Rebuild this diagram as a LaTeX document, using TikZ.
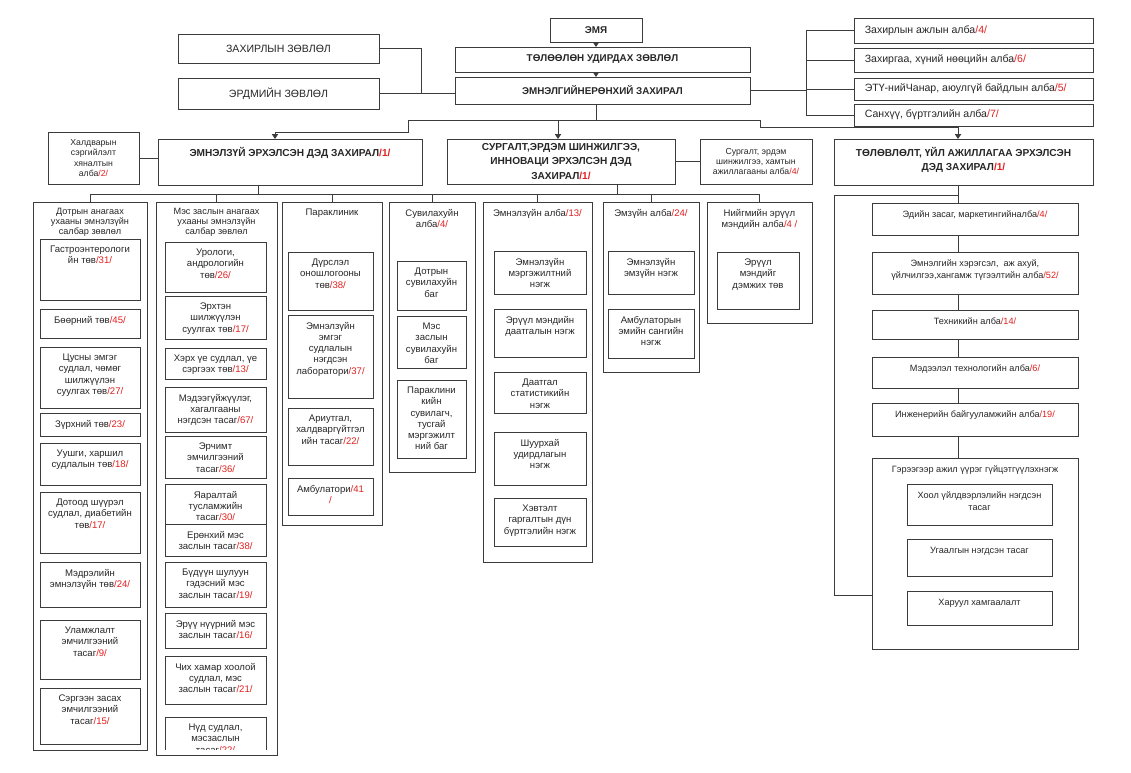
\documentclass[tikz,border=0pt]{standalone}
\usepackage{fontspec}
\setmainfont{Liberation Sans}
\usetikzlibrary{fit}
\usetikzlibrary{arrows.meta}
\definecolor{numred}{RGB}{226,30,30}
\definecolor{linegray}{RGB}{60,60,60}
\newcommand\nm[1]{\textcolor{numred}{/#1/}}
\newcommand\topfont{\fontsize{7}{8}\selectfont\bfseries}
\newcommand\tfont{\fontsize{7.5}{8.6}\selectfont}
\newcommand\hdfont{\fontsize{7.2}{10.3}\selectfont\bfseries}
\newcommand\colfont{\fontsize{6.8}{8}\selectfont}
\newcommand\ttlfont{\fontsize{6.5}{7.1}\selectfont}
\newcommand\sfont{\fontsize{6.2}{7.2}\selectfont}
\newcommand\rfont{\fontsize{6.5}{8.4}\selectfont}
\tikzset{
box/.style={draw=linegray, line width=0.6pt, inner sep=0pt, outer sep=0pt, text=black!85},
sz/.style 2 args={minimum width={#1*0.025cm}, minimum height={#2*0.025cm}},
lbl/.style={anchor=north, yshift=-4.8pt, align=center, inner sep=0pt, font=\colfont, text=black!85},
tbox/.style={box, label={[lbl]90:{#1}}},
ttlbox/.style={box, label={[lbl, font=\ttlfont, yshift=0.5pt]90:{#1}}},
hbox/.style={box, label={[lbl, font=\hdfont, yshift=-0.7pt]90:{#1}}},
rbox/.style={box, label={[lbl, font=\rfont, yshift=-0.7pt]90:{#1}}},
lbox/.style={box, label={[anchor=west, xshift=7.5pt, inner sep=0pt, font=\tfont, text=black!85]180:{#1}}},
cbox/.style={box, align=center, font=#1},
line/.style={draw=linegray, line width=0.6pt},
arr/.style={line, -{Triangle[width=4.5pt,length=3.5pt]}},
}

\begin{document}
\begin{tikzpicture}[x=0.025cm, y=-0.025cm]
\useasboundingbox (0,0) rectangle (1131,773);

%Place the nodes
\node[cbox=\topfont, sz={92}{24}] (emya) at (596,30) {ЭМЯ};
\node[cbox=\topfont, sz={295}{25}] (tolool) at (602.5,59.5) {ТӨЛӨӨЛӨН УДИРДАХ ЗӨВЛӨЛ};
\node[cbox=\topfont, sz={295}{27}] (eronhii) at (602.5,90.5) {ЭМНЭЛГИЙНЕРӨНХИЙ ЗАХИРАЛ};
\node[cbox=\tfont, sz={201}{29}] (zahzov) at (278.5,48.5) {ЗАХИРЛЫН ЗӨВЛӨЛ};
\node[cbox=\tfont, sz={201}{31}] (erdem) at (278.5,93.5) {ЭРДМИЙН ЗӨВЛӨЛ};

\node[lbox={Захирлын ажлын алба\nm{4}}, fit={(854,18) (1093,43)}] (a1) {};
\node[lbox={Захиргаа, хүний нөөцийн алба\nm{6}}, fit={(854,48) (1093,72)}] (a2) {};
\node[lbox={ЭТҮ-нийЧанар, аюулгүй байдлын алба\nm{5}}, fit={(854,78) (1093,100)}] (a3) {};
\node[lbox={Санхүү, бүртгэлийн алба\nm{7}}, fit={(854,104) (1093,126)}] (a4) {};

\node[cbox=\sfont, sz={91}{52}] (haldvar) at (93.5,158) {Халдварын\\сэргийлэлт\\хяналтын\\алба\nm{2}};
\node[hbox={ЭМНЭЛЗҮЙ ЭРХЭЛСЭН ДЭД ЗАХИРАЛ\nm{1}}, fit={(158,139) (422,185)}] (emnelzui) {};
\node[cbox=\hdfont, sz={228}{45}] (surgalt) at (561,161.5) {СУРГАЛТ,ЭРДЭМ ШИНЖИЛГЭЭ,\\ИННОВАЦИ ЭРХЭЛСЭН ДЭД\\ЗАХИРАЛ\nm{1}};
\node[cbox=\sfont, sz={112}{45}] (surhamt) at (756,161.5) {Сургалт, эрдэм\\шинжилгээ, хамтын\\ажиллагааны алба\nm{4}};
\node[hbox={ТӨЛӨВЛӨЛТ, ҮЙЛ АЖИЛЛАГАА ЭРХЭЛСЭН\\ДЭД ЗАХИРАЛ\nm{1}}, fit={(834,139) (1093,185)}] (tolov) {};

%
\node[ttlbox={Дотрын анагаах\\ухааны эмнэлзүйн\\салбар зөвлөл}, fit={(33,202) (147,750)}] (c1) {};
\node[tbox={Гастроэнтерологи\\йн төв\nm{31}}, fit={(40,239) (140,300)}] (c1a) {};
\node[tbox={Бөөрний төв\nm{45}}, fit={(40,309) (140,338)}] (c1b) {};
\node[tbox={Цусны эмгэг\\судлал, чөмөг\\шилжүүлэн\\суулгах төв\nm{27}}, fit={(40,347) (140,408)}] (c1c) {};
\node[tbox={Зүрхний төв\nm{23}}, fit={(40,413) (140,436)}] (c1d) {};
\node[tbox={Уушги, харшил\\судлалын төв\nm{18}}, fit={(40,443) (140,485)}] (c1e) {};
\node[tbox={Дотоод шүүрэл\\судлал, диабетийн\\төв\nm{17}}, fit={(40,492) (140,553)}] (c1f) {};
\node[tbox={Мэдрэлийн\\эмнэлзүйн төв\nm{24}}, fit={(40,562) (140,607)}] (c1g) {};
\node[tbox={Уламжлалт\\эмчилгээний\\тасаг\nm{9}}, fit={(40,620) (140,679)}] (c1h) {};
\node[tbox={Сэргээн засах\\эмчилгээний\\тасаг\nm{15}}, fit={(40,688) (140,744)}] (c1i) {};

\node[ttlbox={Мэс заслын анагаах\\ухааны эмнэлзүйн\\салбар зөвлөл}, fit={(156,202) (277,755)}] (c2) {};
\node[tbox={Урологи,\\андрологийн\\төв\nm{26}}, fit={(165,242) (266,292)}] (c2a) {};
\node[tbox={Эрхтэн\\шилжүүлэн\\суулгах төв\nm{17}}, fit={(165,296) (266,339)}] (c2b) {};
\node[tbox={Хэрх үе судлал, үе\\сэргээх төв\nm{13}}, fit={(165,348) (266,379)}] (c2c) {};
\node[tbox={Мэдээгүйжүүлэг,\\хагалгааны\\нэгдсэн тасаг\nm{67}}, fit={(165,387) (266,432)}] (c2d) {};
\node[tbox={Эрчимт\\эмчилгээний\\тасаг\nm{36}}, fit={(165,436) (266,478)}] (c2e) {};
\node[tbox={Яаралтай\\тусламжийн\\тасаг\nm{30}}, fit={(165,484) (266,524)}] (c2f) {};
\node[tbox={Ерөнхий мэс\\заслын тасаг\nm{38}}, fit={(165,524) (266,556)}] (c2g) {};
\node[tbox={Бүдүүн шулуун\\гэдэсний мэс\\заслын тасаг\nm{19}}, fit={(165,562) (266,607)}] (c2h) {};
\node[tbox={Эрүү нүүрний мэс\\заслын тасаг\nm{16}}, fit={(165,613) (266,648)}] (c2i) {};
\node[tbox={Чих хамар хоолой\\судлал, мэс\\заслын тасаг\nm{21}}, fit={(165,656) (266,704)}] (c2j) {};
\begin{scope}
\clip (150,700) rectangle (285,749);
\node[tbox={Нүд судлал,\\мэсзаслын\\тасаг\nm{22}}, fit={(165,717) (266,790)}] (c2k) {};
\end{scope}

\node[tbox={Параклиник}, fit={(282,202) (382,525)}] (c3) {};
\node[tbox={Дүрслэл\\оношлогооны\\төв\nm{38}}, fit={(288,252) (373,310)}] (c3a) {};
\node[tbox={Эмнэлзүйн\\эмгэг\\судлалын\\нэгдсэн\\лаборатори\nm{37}}, fit={(288,315) (373,398)}] (c3b) {};
\node[tbox={Ариутгал,\\халдваргүйтгэл\\ийн тасаг\nm{22}}, fit={(288,408) (373,465)}] (c3c) {};
\node[tbox={Амбулатори\textcolor{numred}{/41}\\\textcolor{numred}{/}}, fit={(288,478) (373,515)}] (c3d) {};

\node[tbox={Сувилахуйн\\алба\nm{4}}, fit={(389,202) (475,472)}] (c4) {};
\node[tbox={Дотрын\\сувилахуйн\\баг}, fit={(397,261) (466,310)}] (c4a) {};
\node[tbox={Мэс\\заслын\\сувилахуйн\\баг}, fit={(397,316) (466,368)}] (c4b) {};
\node[tbox={Параклини\\кийн\\сувилагч,\\тусгай\\мэргэжилт\\ний баг}, fit={(397,380) (466,458)}] (c4c) {};

\node[tbox={Эмнэлзүйн алба\nm{13}}, fit={(483,202) (592,562)}] (c5) {};
\node[tbox={Эмнэлзүйн\\мэргэжилтний\\нэгж}, fit={(494,251) (586,294)}] (c5a) {};
\node[tbox={Эрүүл мэндийн\\даатгалын нэгж}, fit={(494,309) (586,357)}] (c5b) {};
\node[tbox={Даатгал\\статистикийн\\нэгж}, fit={(494,372) (586,413)}] (c5c) {};
\node[tbox={Шуурхай\\удирдлагын\\нэгж}, fit={(494,432) (586,485)}] (c5d) {};
\node[tbox={Хэвтэлт\\гаргалтын дүн\\бүртгэлийн нэгж}, fit={(494,498) (586,546)}] (c5e) {};

\node[tbox={Эмзүйн алба\nm{24}}, fit={(603,202) (699,372)}] (c6) {};
\node[tbox={Эмнэлзүйн\\эмзүйн нэгж}, fit={(608,251) (694,294)}] (c6a) {};
\node[tbox={Амбулаторын\\эмийн сангийн\\нэгж}, fit={(608,309) (694,358)}] (c6b) {};

\node[tbox={Нийгмийн эрүүл\\мэндийн алба\textcolor{numred}{/4 /}}, fit={(707,202) (812,323)}] (c7) {};
\node[tbox={Эрүүл\\мэндийг\\дэмжих төв}, fit={(717,252) (799,309)}] (c7a) {};

%
\node[rbox={Эдийн засаг, маркетингийналба\nm{4}}, fit={(872,203) (1078,235)}] (r1) {};
\node[rbox={Эмнэлгийн хэрэгсэл,~ аж ахуй,\\үйлчилгээ,хангамж түгээлтийн алба\nm{52}}, fit={(872,252) (1078,294)}] (r2) {};
\node[rbox={Техникийн алба\nm{14}}, fit={(872,310) (1078,339)}] (r3) {};
\node[rbox={Мэдээлэл технологийн алба\nm{6}}, fit={(872,357) (1078,388)}] (r4) {};
\node[rbox={Инженерийн байгууламжийн алба\nm{19}}, fit={(872,403) (1078,436)}] (r5) {};
\node[rbox={Гэрээгээр ажил үүрэг гүйцэтгүүлэхнэгж}, fit={(872,458) (1078,649)}] (r6) {};
\node[rbox={Хоол үйлдвэрлэлийн нэгдсэн\\тасаг}, fit={(907,484) (1052,525)}] (r6a) {};
\node[rbox={Угаалгын нэгдсэн тасаг}, fit={(907,539) (1052,576)}] (r6b) {};
\node[rbox={Харуул хамгаалалт}, fit={(907,591) (1052,625)}] (r6c) {};

\coordinate (spine) at (596,0);
\coordinate (lj) at (421,0);
\coordinate (brk) at (806,0);
\coordinate (busL) at (408,120);
\coordinate (busR) at (760,120);
\coordinate (e1) at (275,139);
\coordinate (s1) at (558,139);
\coordinate (t1) at (958,139);
\coordinate (e2) at (258,185);
\coordinate (g2) at (617,184);
\coordinate (t2) at (958,185);
\coordinate (t3) at (834,595);
\coordinate (bus2L) at (90,194);
\coordinate (bus2R) at (760,194);

%
\draw[arr] (emya.south -| spine) -- (tolool.north -| spine);
\draw[arr] (tolool.south -| spine) -- (eronhii.north -| spine);
\draw[line] (eronhii.south -| spine) -- (spine |- busL);
\draw[line] (busL) -- (busR);
\draw[arr] (busL) -- (busL |- 0,132) -| (e1);
\draw[arr] (s1 |- busL) -- (s1);
\draw[arr] (busR) -- (busR |- 0,127) -| (t1);

%
\draw[line] (zahzov.east) -| (lj |- erdem.east);
\draw[line] (erdem.east) -- (erdem.east -| eronhii.west);
\draw[line] (eronhii.east) -- (eronhii.east -| brk);
\draw[line] (brk |- a1.west) -- (brk |- a4.west);
\foreach \a in {a1,a2,a3,a4}
	\draw[line] (brk |- \a.west) -- (\a.west);

%
\draw[line] (haldvar.east) -- (haldvar.east -| emnelzui.west);
\draw[line] (surgalt.east) -- (surhamt.west);

%
\draw[line] (e2) -- (e2 |- bus2L);
\draw[line] (g2) -- (g2 |- bus2L);
\draw[line] (bus2L) -- (bus2R);
\foreach \c in {c1,c2,c3,c4,c5,c6,c7}
	\draw[line] (\c.north |- bus2L) -- (\c.north);

%
\draw[line] (t2) -- (r1.north -| t2);
\draw[line] (r1.south -| t2) -- (r2.north -| t2);
\draw[line] (r2.south -| t2) -- (r3.north -| t2);
\draw[line] (r3.south -| t2) -- (r4.north -| t2);
\draw[line] (r4.south -| t2) -- (r5.north -| t2);
\draw[line] (r5.south -| t2) -- (r6.north -| t2);
\draw[line] (t2 |- 0,195) -| (t3) -- (t3 -| r6.west);

\end{tikzpicture}
\end{document}
